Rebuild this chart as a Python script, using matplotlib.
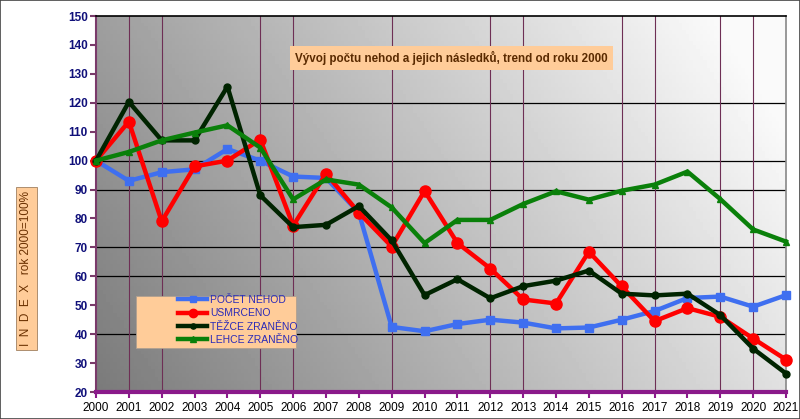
import numpy as np
import matplotlib
matplotlib.use("Agg")
import matplotlib.pyplot as plt
from matplotlib.lines import Line2D

plt.rcParams['font.family'] = ['Liberation Sans', 'DejaVu Sans']

years = list(range(2000, 2022))

pocet_nehod = [100, 93, 96, 97, 104, 100, 94.5, 94, 82, 42.5, 41, 43.5, 45, 44,
               42, 42.3, 45, 48, 52.5, 53, 49.5, 53.5]
usmrceno = [100, 113.5, 79, 98, 100, 107.3, 77.5, 95.5, 82, 70.3, 89.5, 71.5, 62.7, 52,
            50.6, 68.5, 56.5, 44.5, 49, 46, 38.5, 31.2]
tezce_zraneno = [100, 120.3, 107, 107, 125.6, 88, 77, 77.8, 84.3, 72.4, 53.5, 59, 52.4,
                 56.6, 58.5, 62, 54, 53.4, 54, 46.6, 35, 26.4]
lehce_zraneno = [100, 103, 107, 109.7, 112.2, 104.5, 86.6, 93.5, 91.7, 83.8, 71.5, 79.5,
                 79.5, 85, 89.4, 86.5, 89.6, 91.7, 96.2, 86.7, 76.2, 72]

series = [
    ("POČET NEHOD", pocet_nehod, "#3f6ff0", "s", 6),
    ("USMRCENO", usmrceno, "#ff0000", "o", 8),
    ("TĚŽCE ZRANĚNO", tezce_zraneno, "#002400", "o", 5),
    ("LEHCE ZRANĚNO", lehce_zraneno, "#0a800a", "^", 5),
]

fig = plt.figure(figsize=(8, 4.19), dpi=100)
ax = fig.add_axes([0.12, 0.0644, 0.8625, 0.8974])

# gray gradient background, lighter to the upper right
gx = np.linspace(0, 1, 200)
gy = np.linspace(0, 1, 100)
X, Y = np.meshgrid(gx, gy)
G = 0.48 + 0.40 * X + 0.14 * Y
G = np.clip(G, 0, 0.98)
ax.imshow(G, cmap="gray", vmin=0, vmax=1, origin="lower", aspect="auto",
          extent=[2000, 2021, 20, 150], zorder=0)

for yv in [120, 100, 90, 70, 60, 40]:
    ax.axhline(yv, color="black", lw=0.9, zorder=1)
for xv in [2001, 2002, 2005, 2006, 2009, 2012, 2013, 2016, 2017, 2019, 2020]:
    ax.axvline(xv, color="#6e2f55", lw=0.8, zorder=1)

for name, vals, col, mk, ms in series:
    ax.plot(years, vals, color=col, lw=3.2, marker=mk, ms=ms, zorder=3,
            clip_on=False)

ax.set_xlim(2000, 2021)
ax.set_ylim(20, 150)
ax.set_xticks(years)
ax.set_xticklabels([str(y) for y in years], fontsize=8.5, color="black")
ax.set_yticks(range(20, 151, 10))
for lab in ax.get_yticklabels():
    lab.set_fontsize(8.5)
    lab.set_fontweight("bold")
    lab.set_color("#10107a")

ax.spines["top"].set_color("black")
ax.spines["top"].set_linewidth(1.2)
ax.spines["right"].set_color("#888888")
ax.spines["right"].set_linewidth(1.2)
ax.spines["left"].set_color("#7a3a6a")
ax.spines["left"].set_linewidth(1.5)
ax.spines["bottom"].set_color("#8a1a8a")
ax.spines["bottom"].set_linewidth(3)
ax.tick_params(axis="y", colors="#7a3a6a", length=4, width=1.5, labelcolor="#10107a", pad=2)
ax.tick_params(axis="x", colors="#8a1a8a", length=4, width=1.5, labelcolor="black", pad=3)

fig.text(0.5645, 0.861, "Vývoj počtu nehod a jejich následků, trend od roku 2000",
         ha="center", va="center", fontsize=8.4, color="#5a2a00", fontweight="bold",
         bbox=dict(boxstyle="square,pad=0.45", fc="#ffcc99", ec="none"))

fig.text(0.033, 0.36, "I  N  D  E  X   rok 2000=100%", rotation=90, ha="center",
         va="center", fontsize=8.5, color="#6a3000",
         bbox=dict(boxstyle="square,pad=0.35", fc="#ffcc99", ec="#a08060", lw=0.6))

# legend panel
fig.patches.append(plt.Rectangle((136 / 800, 1 - 348 / 419), 160 / 800, 52 / 419,
                                 transform=fig.transFigure, fc="#ffcc99",
                                 ec="#b0a090", lw=0.6, zorder=4))
handles = [Line2D([0], [0], color=c, lw=3.2, marker=m, ms=ms * 0.75)
           for _, _, c, m, ms in series]
leg = fig.legend(handles, [s[0] for s in series], loc="upper left",
                 bbox_to_anchor=(178 / 800, 1 - 295 / 419), frameon=False,
                 handlelength=2.8, handletextpad=0.3, labelspacing=0.32,
                 borderpad=0, borderaxespad=0, labelcolor="#2a2ab8",
                 prop={"size": 7.5})
leg.set_zorder(5)

fig.patches.append(plt.Rectangle((0, 0), 1, 1, transform=fig.transFigure,
                                 fill=False, ec="#444444", lw=1.2))

fig.savefig("out.png", dpi=100)
